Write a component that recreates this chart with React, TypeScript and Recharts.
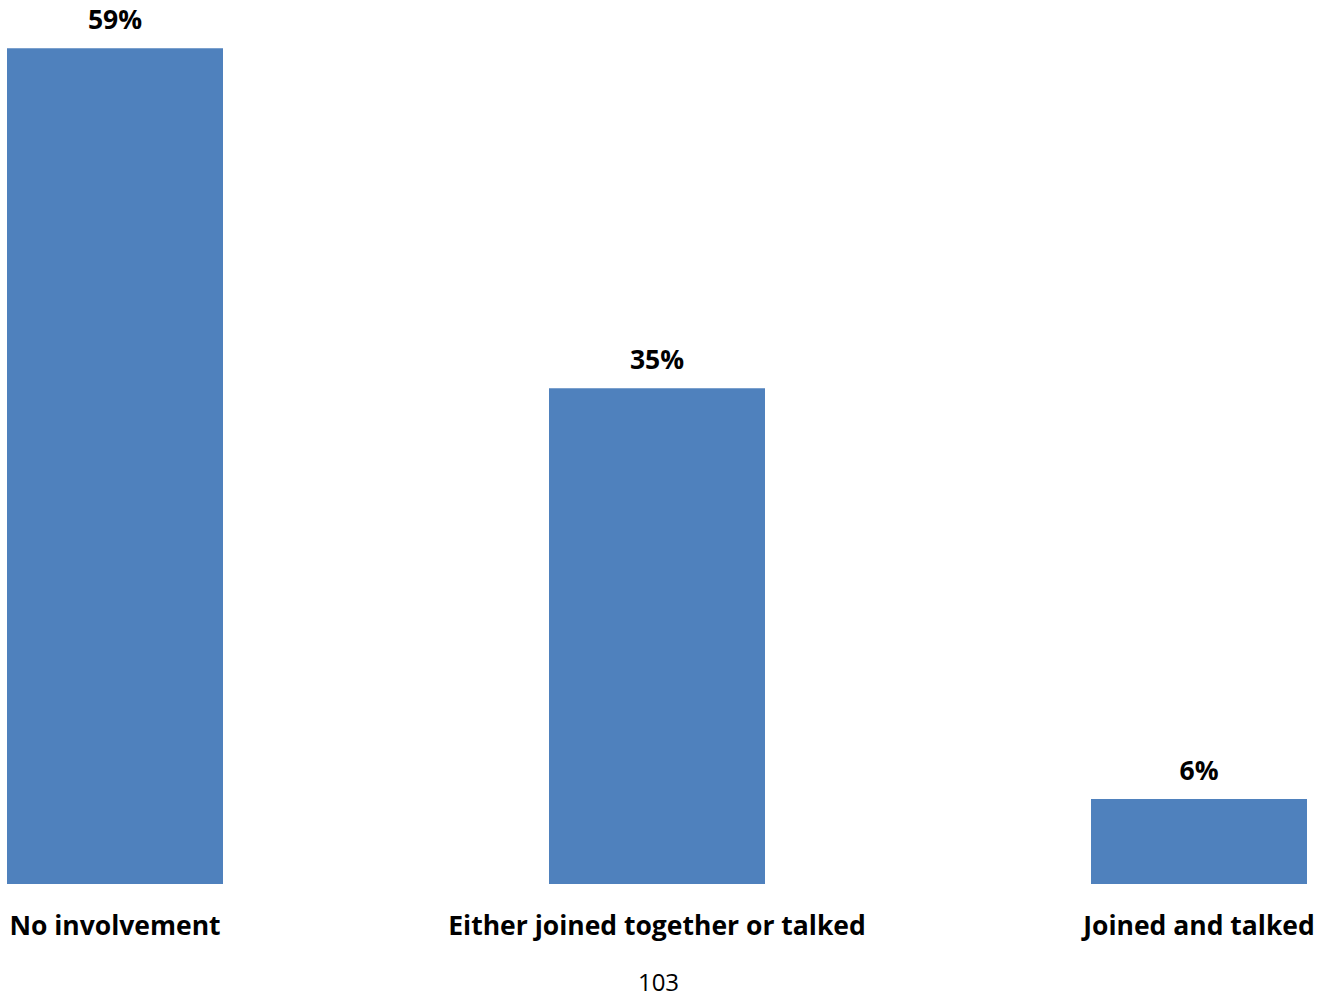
import React from 'react';
import { BarChart, Bar, XAxis, YAxis, LabelList } from 'recharts';

const categories = ['No involvement', 'Either joined together or talked', 'Joined and talked'];
const shares = [59, 35, 6];
const pageNumber = '103';

const data = categories.map((name, i) => ({ name, value: shares[i] }));

const FONT = '"Open Sans", Lato, sans-serif';

const CategoryTick = (props: any) => {
  const { x, y, payload } = props;
  return (
    <text x={x} y={y + 43} textAnchor="middle" fontFamily={FONT} fontWeight={700} fontSize={26.5} fill="#000">
      {payload.value}
    </text>
  );
};

const ValueLabel = (props: any) => {
  const { x, y, width, value } = props;
  return (
    <text x={x + width / 2} y={y - 19} textAnchor="middle" fontFamily={FONT} fontWeight={700} fontSize={26.5} fill="#000">
      {`${value}%`}
    </text>
  );
};

const App = () => {
  return (
    <div style={{ position: 'absolute', left: 0, top: 0, width: 1317, height: 998, overflow: 'hidden', background: '#fff' }}>
      <div style={{ position: 'absolute', left: -156, top: 0 }}>
        <BarChart width={1626} height={960} data={data} margin={{ top: 34, right: 0, left: 0, bottom: 0 }} barSize={216}>
          <XAxis dataKey="name" axisLine={false} tickLine={false} height={76} tick={<CategoryTick />} interval={0} />
          <YAxis hide domain={[0, 60]} />
          <Bar dataKey="value" fill="#4F81BD" isAnimationActive={false}>
            <LabelList dataKey="value" content={<ValueLabel />} />
          </Bar>
        </BarChart>
      </div>
      <div
        style={{
          position: 'absolute',
          left: 0,
          width: 1317,
          top: 969,
          textAlign: 'center',
          fontFamily: FONT,
          fontSize: 24,
          lineHeight: '26px',
          color: '#000',
        }}
      >
        {pageNumber}
      </div>
    </div>
  );
};

export default App;
